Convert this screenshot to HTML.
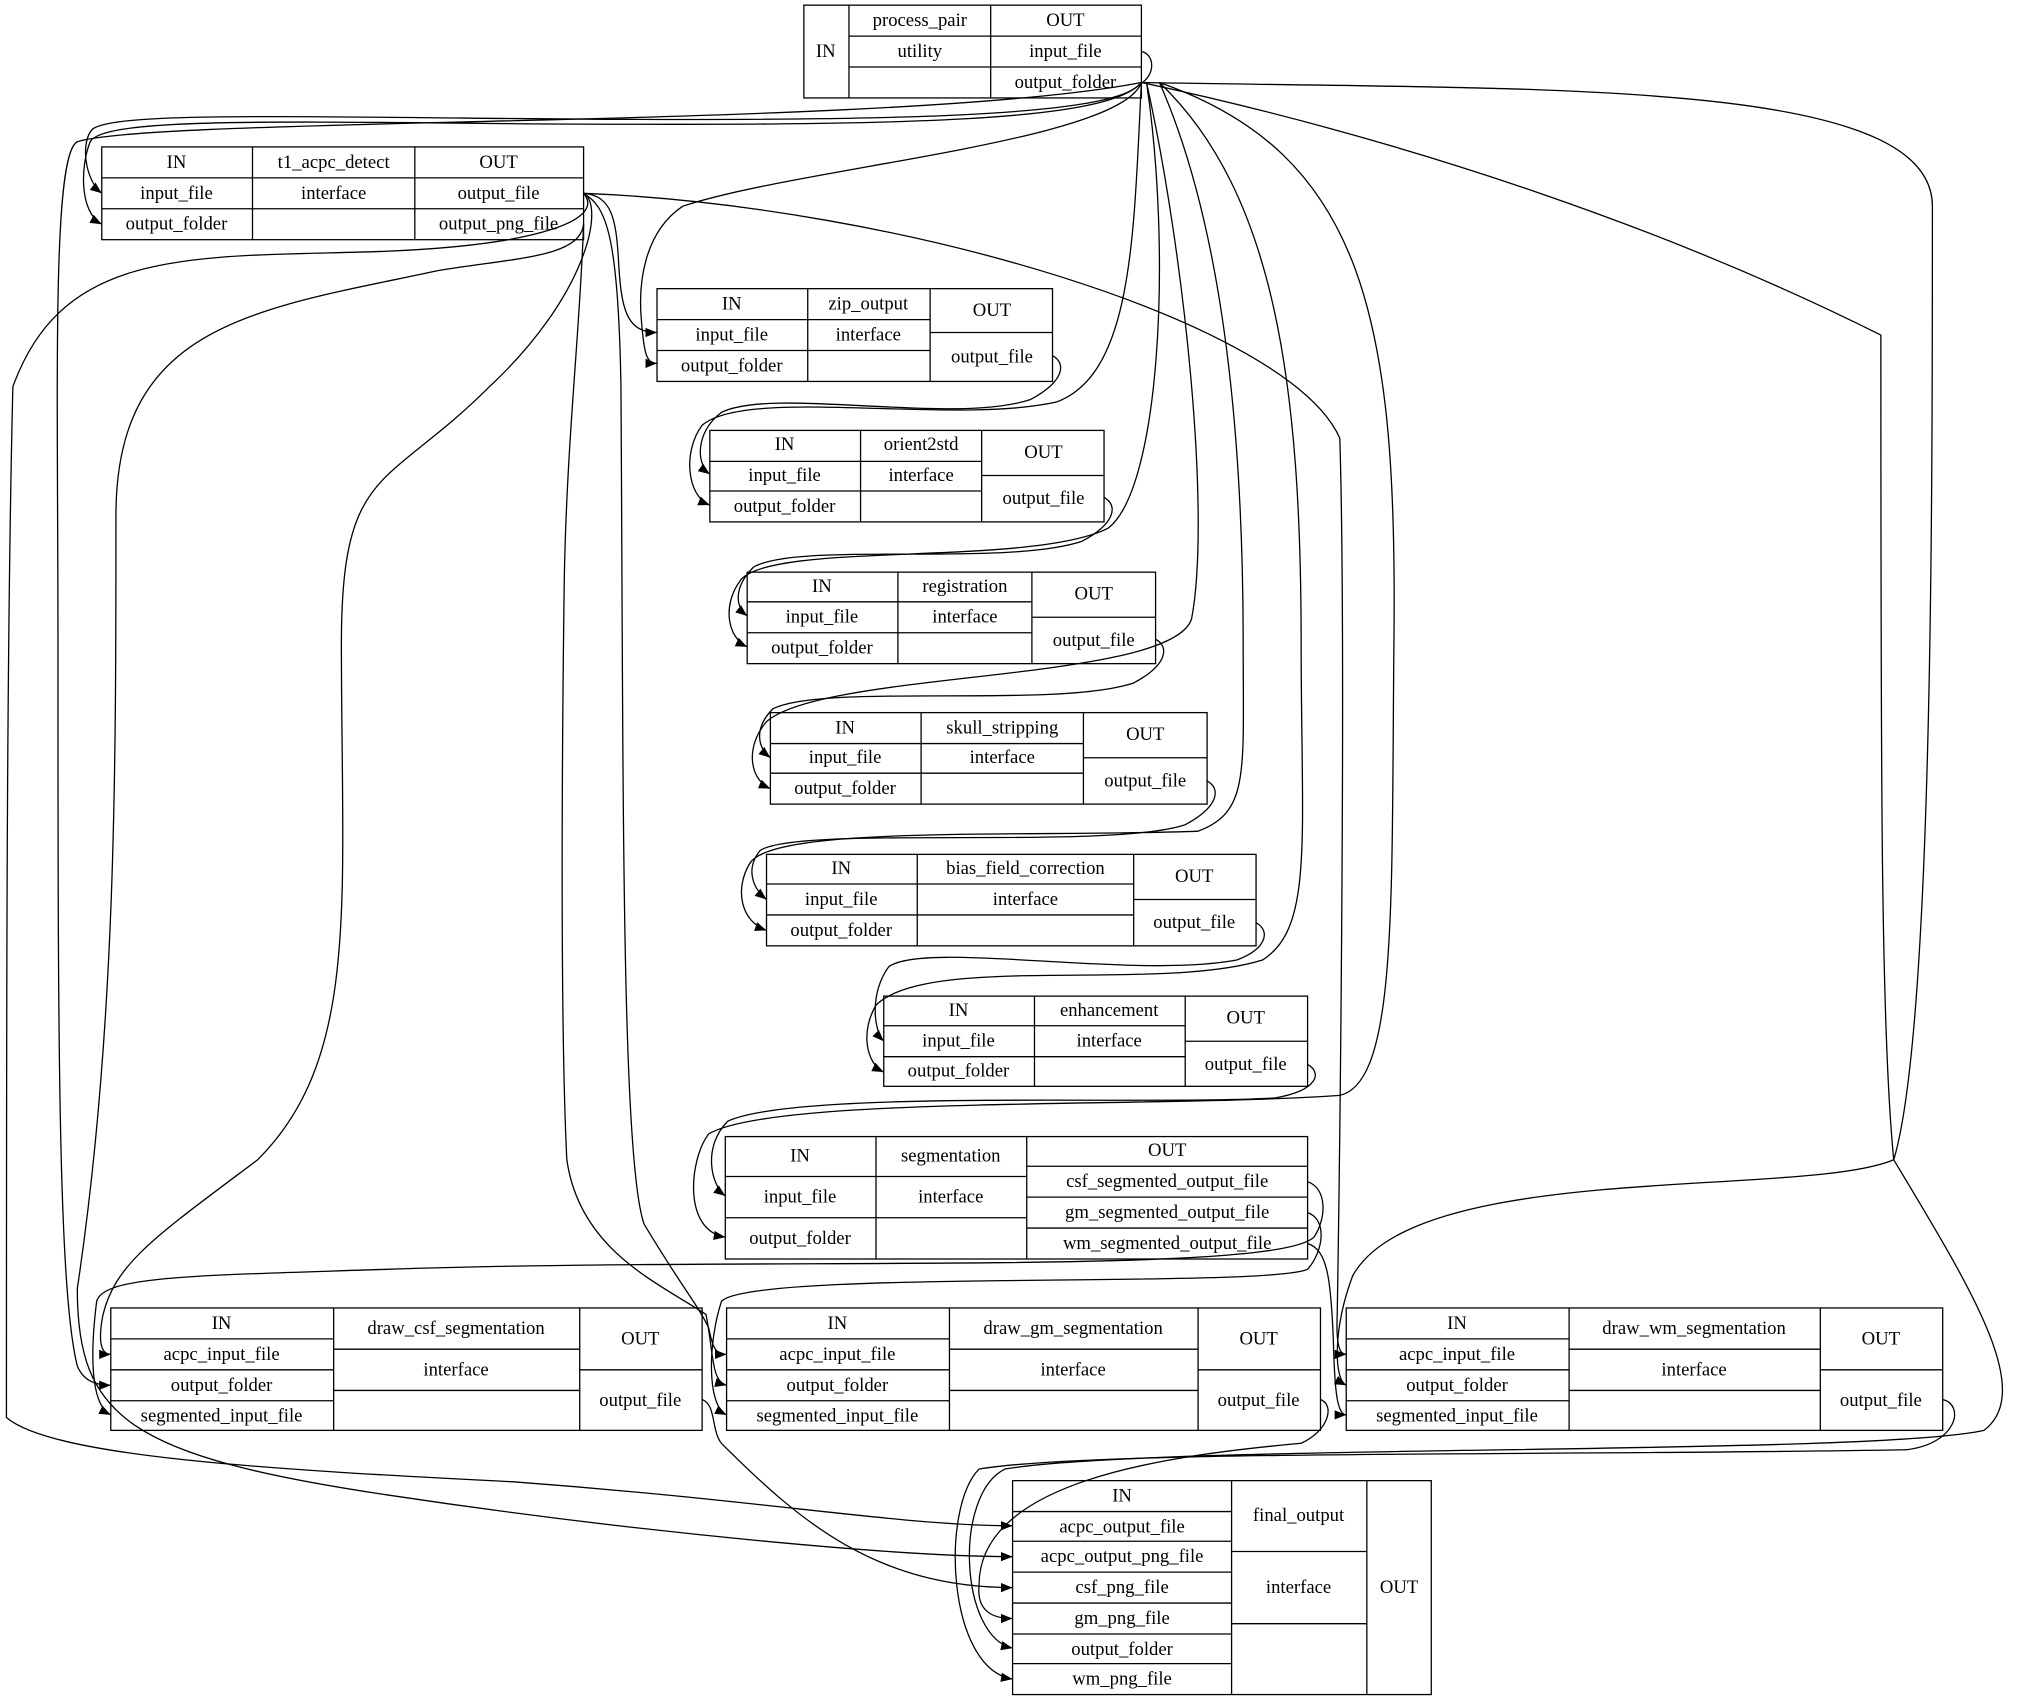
<!DOCTYPE html>
<html><head><meta charset="utf-8"><style>
html,body{margin:0;padding:0;background:#fff}
svg{display:block}
text{font-family:"Liberation Serif",serif;font-size:14.5px;fill:#000;text-anchor:middle;dominant-baseline:central}
.b{fill:none;stroke:#000;stroke-width:1}
.e{fill:none;stroke:#000;stroke-width:1}
</style></head><body>
<svg width="2020" height="1701" viewBox="0 0 1568 1320" preserveAspectRatio="none" xmlns="http://www.w3.org/2000/svg">
<defs><marker id="a" viewBox="0 0 10 10" refX="10" refY="5" markerWidth="9" markerHeight="9" markerUnits="userSpaceOnUse" orient="auto"><path d="M0,1 L10,5 L0,9 z" fill="#000"/></marker></defs>

<!-- process_pair -->
<rect class="b" x="624" y="4" width="262" height="72"/>
<path class="b" d="M659,4V76M769,4V76M659,28H886M659,52H886"/>
<text x="641" y="40">IN</text><text x="714" y="16">process_pair</text><text x="714" y="40">utility</text>
<text x="827" y="16">OUT</text><text x="827" y="40">input_file</text><text x="827" y="64">output_folder</text>

<!-- t1_acpc_detect -->
<rect class="b" x="79" y="114" width="374" height="72"/>
<path class="b" d="M196,114V186M322,114V186M79,138H453M79,162H453"/>
<text x="137" y="126">IN</text><text x="137" y="150">input_file</text><text x="137" y="174">output_folder</text>
<text x="259" y="126">t1_acpc_detect</text><text x="259" y="150">interface</text>
<text x="387" y="126">OUT</text><text x="387" y="150">output_file</text><text x="387" y="174">output_png_file</text>

<!-- chain nodes -->
<g>
<rect class="b" x="510" y="224" width="307" height="72"/>
<path class="b" d="M627,224V296M722,224V296M510,248H722M510,272H722M722,258H817"/>
<text x="568" y="236">IN</text><text x="568" y="260">input_file</text><text x="568" y="284">output_folder</text>
<text x="674" y="236">zip_output</text><text x="674" y="260">interface</text>
<text x="770" y="241">OUT</text><text x="770" y="277">output_file</text>
</g>
<g>
<rect class="b" x="551" y="334" width="306" height="71"/>
<path class="b" d="M668,334V405M762,334V405M551,358H762M551,381H762M762,369H857"/>
<text x="609" y="345">IN</text><text x="609" y="369">input_file</text><text x="609" y="393">output_folder</text>
<text x="715" y="345">orient2std</text><text x="715" y="369">interface</text>
<text x="810" y="351">OUT</text><text x="810" y="387">output_file</text>
</g>
<g>
<rect class="b" x="580" y="444" width="317" height="71"/>
<path class="b" d="M697,444V515M801,444V515M580,467H801M580,491H801M801,479H897"/>
<text x="638" y="455">IN</text><text x="638" y="479">input_file</text><text x="638" y="503">output_folder</text>
<text x="749" y="455">registration</text><text x="749" y="479">interface</text>
<text x="849" y="461">OUT</text><text x="849" y="497">output_file</text>
</g>
<g>
<rect class="b" x="598" y="553" width="339" height="71"/>
<path class="b" d="M715,553V624M841,553V624M598,577H841M598,600H841M841,588H937"/>
<text x="656" y="565">IN</text><text x="656" y="588">input_file</text><text x="656" y="612">output_folder</text>
<text x="778" y="565">skull_stripping</text><text x="778" y="588">interface</text>
<text x="889" y="570">OUT</text><text x="889" y="606">output_file</text>
</g>
<g>
<rect class="b" x="595" y="663" width="380" height="71"/>
<path class="b" d="M712,663V734M880,663V734M595,686H880M595,710H880M880,698H975"/>
<text x="653" y="674">IN</text><text x="653" y="698">input_file</text><text x="653" y="722">output_folder</text>
<text x="796" y="674">bias_field_correction</text><text x="796" y="698">interface</text>
<text x="927" y="680">OUT</text><text x="927" y="716">output_file</text>
</g>
<g>
<rect class="b" x="686" y="773" width="329" height="70"/>
<path class="b" d="M803,773V843M920,773V843M686,796H920M686,820H920M920,808H1015"/>
<text x="744" y="784">IN</text><text x="744" y="808">input_file</text><text x="744" y="831">output_folder</text>
<text x="861" y="784">enhancement</text><text x="861" y="808">interface</text>
<text x="967" y="790">OUT</text><text x="967" y="826">output_file</text>
</g>
<!-- segmentation -->
<g>
<rect class="b" x="563" y="882" width="452" height="95"/>
<path class="b" d="M680,882V977M797,882V977M563,913H797M563,945H797M797,905H1015M797,929H1015M797,953H1015"/>
<text x="621" y="897">IN</text><text x="621" y="929">input_file</text><text x="621" y="961">output_folder</text>
<text x="738" y="897">segmentation</text><text x="738" y="929">interface</text>
<text x="906" y="893">OUT</text><text x="906" y="917">csf_segmented_output_file</text><text x="906" y="941">gm_segmented_output_file</text><text x="906" y="965">wm_segmented_output_file</text>
</g>
<!-- draw nodes -->
<g>
<rect class="b" x="86" y="1015" width="459" height="95"/>
<path class="b" d="M259,1015V1110M450,1015V1110M86,1039H259M86,1063H259M86,1087H259M259,1047H450M259,1079H450M450,1063H545"/>
<text x="172" y="1027">IN</text><text x="172" y="1051">acpc_input_file</text><text x="172" y="1075">output_folder</text><text x="172" y="1099">segmented_input_file</text>
<text x="354" y="1031">draw_csf_segmentation</text><text x="354" y="1063">interface</text>
<text x="497" y="1039">OUT</text><text x="497" y="1087">output_file</text>
</g>
<g>
<rect class="b" x="564" y="1015" width="461" height="95"/>
<path class="b" d="M737,1015V1110M930,1015V1110M564,1039H737M564,1063H737M564,1087H737M737,1047H930M737,1079H930M930,1063H1025"/>
<text x="650" y="1027">IN</text><text x="650" y="1051">acpc_input_file</text><text x="650" y="1075">output_folder</text><text x="650" y="1099">segmented_input_file</text>
<text x="833" y="1031">draw_gm_segmentation</text><text x="833" y="1063">interface</text>
<text x="977" y="1039">OUT</text><text x="977" y="1087">output_file</text>
</g>
<g>
<rect class="b" x="1045" y="1015" width="463" height="95"/>
<path class="b" d="M1218,1015V1110M1413,1015V1110M1045,1039H1218M1045,1063H1218M1045,1087H1218M1218,1047H1413M1218,1079H1413M1413,1063H1508"/>
<text x="1131" y="1027">IN</text><text x="1131" y="1051">acpc_input_file</text><text x="1131" y="1075">output_folder</text><text x="1131" y="1099">segmented_input_file</text>
<text x="1315" y="1031">draw_wm_segmentation</text><text x="1315" y="1063">interface</text>
<text x="1460" y="1039">OUT</text><text x="1460" y="1087">output_file</text>
</g>
<!-- final_output -->
<g>
<rect class="b" x="786" y="1149" width="325" height="166"/>
<path class="b" d="M956,1149V1315M1061,1149V1315M786,1173H956M786,1196H956M786,1220H956M786,1244H956M786,1268H956M786,1291H956M956,1204H1061M956,1260H1061"/>
<text x="871" y="1161">IN</text><text x="871" y="1185">acpc_output_file</text><text x="871" y="1208">acpc_output_png_file</text><text x="871" y="1232">csf_png_file</text><text x="871" y="1256">gm_png_file</text><text x="871" y="1280">output_folder</text><text x="871" y="1303">wm_png_file</text>
<text x="1008" y="1176">final_output</text><text x="1008" y="1232">interface</text>
<text x="1086" y="1232">OUT</text>
</g>

<!-- edges -->
<g class="e" marker-end="url(#a)">
<path class="e" d="M886,40 C896,42 898,58 884,66 C860,90 700,95 400,92 C200,90 90,88 72,100 C62,110 66,140 79,150"/>
<path class="e" d="M886,64 C860,95 700,98 400,96 C200,94 80,92 70,110 C62,130 62,165 79,174"/>
<path class="e" d="M453,150 C475,152 478,170 480,200 C482,240 486,258 510,258"/>
<path class="e" d="M886,64 C870,110 620,130 530,160 C500,180 495,220 498,250 C500,275 502,282 510,282"/>
<path class="e" d="M817,276 C828,282 826,296 800,310 C740,330 600,300 560,320 C540,335 540,360 551,368"/>
<path class="e" d="M886,64 C880,180 880,290 820,312 C740,330 580,300 545,330 C530,350 533,385 551,392"/>
<path class="e" d="M857,386 C868,392 866,406 840,420 C780,440 620,420 585,440 C570,455 570,470 580,478"/>
<path class="e" d="M890,64 C910,200 900,380 860,410 C800,440 600,420 575,450 C560,470 565,495 580,502"/>
<path class="e" d="M897,496 C908,502 906,516 880,530 C820,550 640,530 600,550 C585,565 588,580 598,588"/>
<path class="e" d="M890,64 C920,200 940,400 925,480 C910,530 640,520 595,560 C578,580 582,605 598,612"/>
<path class="e" d="M937,606 C948,612 946,626 920,640 C860,660 620,640 590,660 C578,675 585,690 595,698"/>
<path class="e" d="M900,64 C960,200 965,400 965,500 C965,600 970,630 930,645 C800,650 600,640 582,670 C570,690 575,715 595,722"/>
<path class="e" d="M975,716 C986,722 984,736 960,745 C880,760 720,730 690,750 C675,770 678,800 686,808"/>
<path class="e" d="M900,64 C990,150 1010,300 1010,500 C1010,650 1020,720 980,745 C900,770 720,740 680,780 C668,800 672,825 686,832"/>
<path class="e" d="M1015,826 C1026,832 1024,846 990,852 C900,858 620,845 565,870 C545,890 552,920 563,928"/>
<path class="e" d="M900,64 C1060,120 1085,250 1082,500 C1080,700 1085,840 1040,850 C900,860 600,850 550,880 C535,900 530,955 563,960"/>
<path class="e" d="M1015,917 C1030,922 1030,945 1020,960 C990,990 600,975 300,985 C150,990 80,990 75,1010 C70,1050 70,1090 86,1098"/>
<path class="e" d="M1015,941 C1030,946 1028,970 1015,985 C980,1000 580,985 560,1010 C550,1040 548,1090 564,1098"/>
<path class="e" d="M1015,965 C1030,970 1033,990 1035,1040 C1036,1080 1038,1098 1045,1098"/>
<path class="e" d="M453,150 C470,160 455,230 380,300 C300,380 265,360 265,500 C265,700 280,820 200,900 C120,960 90,980 80,1020 C76,1040 78,1051 86,1051"/>
<path class="e" d="M453,150 C470,160 480,180 482,300 C484,600 482,900 500,950 C530,1000 540,1010 550,1030 C553,1045 555,1051 564,1051"/>
<path class="e" d="M453,150 C700,160 1000,250 1040,340 C1045,500 1040,900 1038,1020 C1037,1045 1040,1051 1045,1051"/>
<path class="e" d="M886,64 C700,100 120,90 60,110 C40,120 45,300 45,500 C45,800 45,1000 60,1060 C65,1072 75,1075 86,1075"/>
<path class="e" d="M453,174 C450,260 440,340 438,450 C436,600 435,800 440,900 C450,970 510,995 548,1020 C554,1050 552,1072 564,1075"/>
<path class="e" d="M886,64 C1200,70 1500,60 1500,160 C1500,400 1500,800 1470,900 C1400,930 1100,900 1050,990 C1035,1030 1035,1070 1045,1075"/>
<path class="e" d="M886,64 C1100,110 1300,180 1460,260 C1460,600 1460,800 1470,900 C1530,1000 1580,1080 1540,1110 C1450,1130 900,1120 780,1140 C740,1160 745,1270 786,1279"/>
<path class="e" d="M453,150 C470,170 420,190 300,195 C150,200 50,190 10,300 C5,500 5,800 5,1100 C40,1130 200,1140 400,1150 C600,1165 700,1184 786,1184"/>
<path class="e" d="M453,174 C450,200 400,200 340,210 C200,240 90,250 90,400 C90,600 90,800 60,1000 C60,1100 100,1130 300,1160 C500,1190 700,1208 786,1208"/>
<path class="e" d="M545,1086 C556,1090 552,1110 560,1120 C620,1180 680,1232 786,1232"/>
<path class="e" d="M1025,1086 C1036,1090 1032,1110 1010,1120 C900,1130 760,1150 760,1230 C758,1250 770,1256 786,1256"/>
<path class="e" d="M1508,1086 C1525,1090 1520,1120 1480,1125 C1200,1130 850,1125 760,1140 C730,1170 735,1295 786,1303"/>
</g>
</svg>
</body></html>
